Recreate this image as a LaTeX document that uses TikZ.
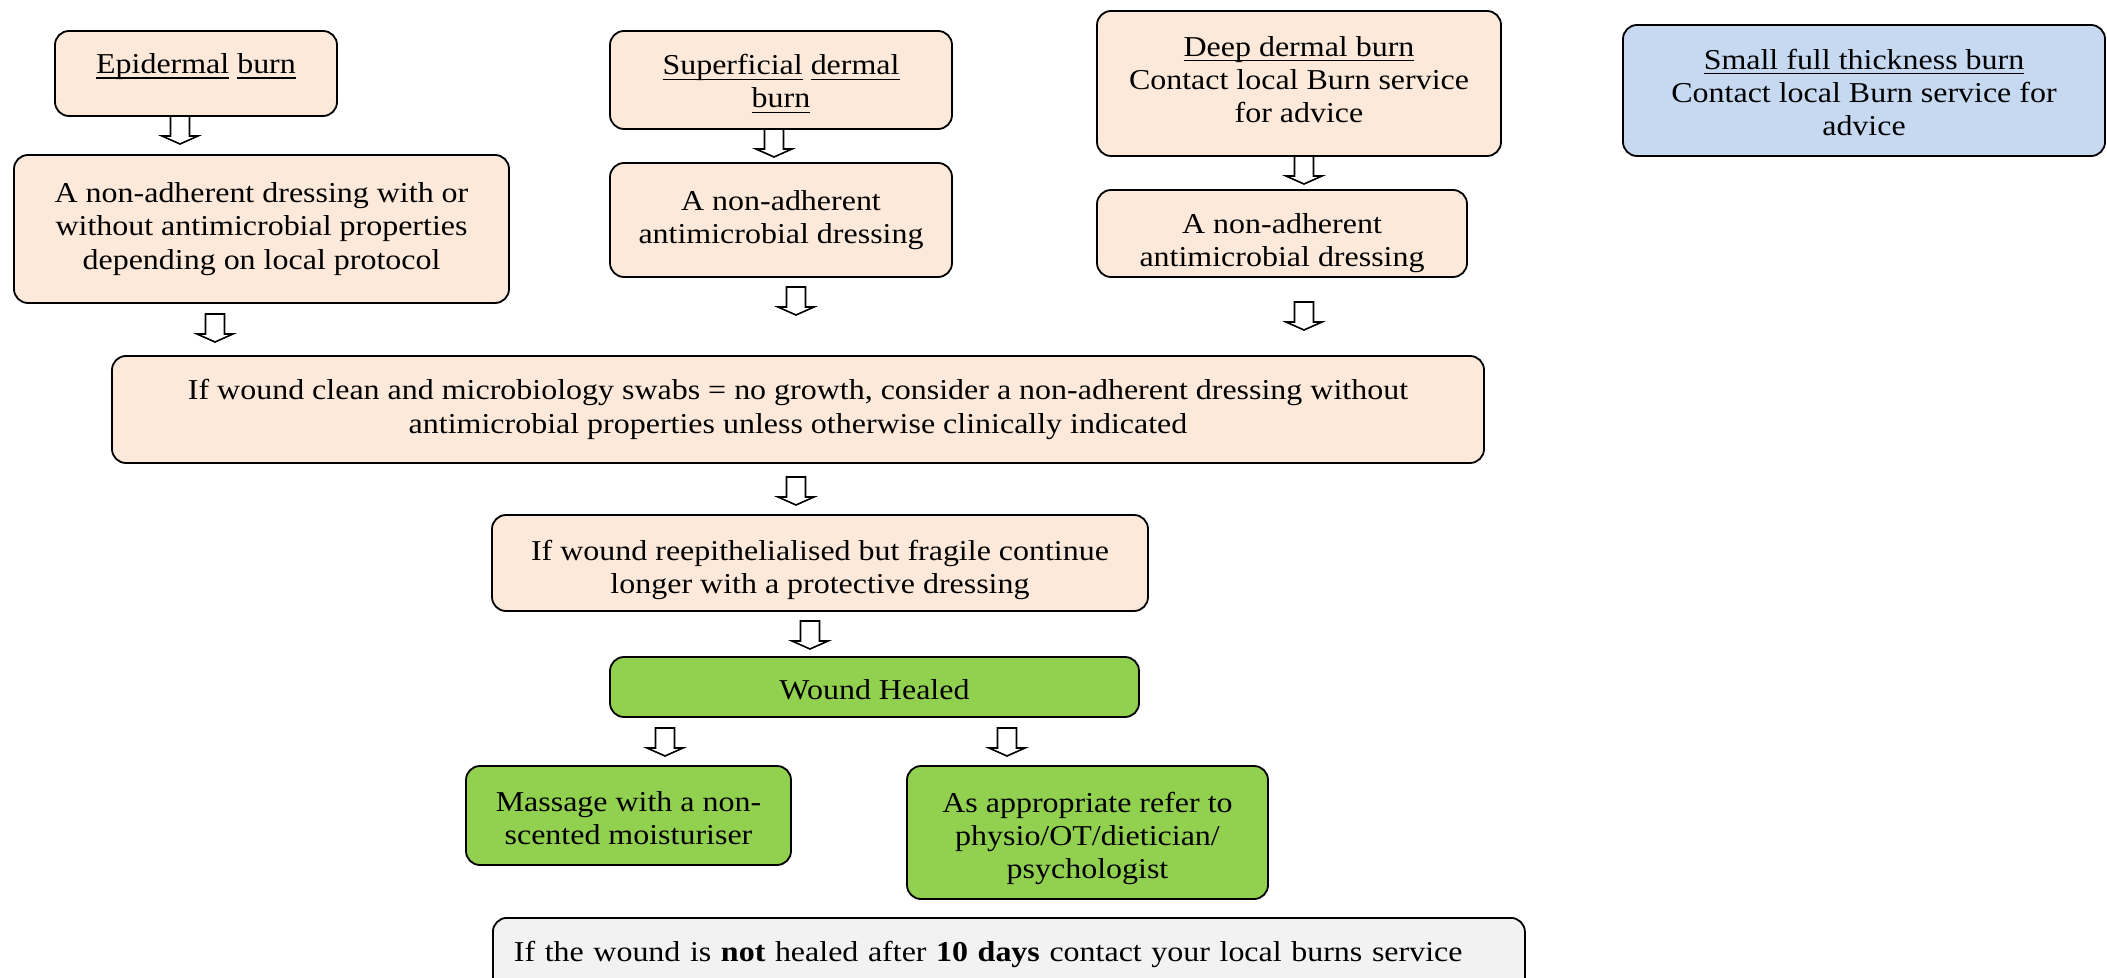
\documentclass[tikz,border=0pt]{standalone}
\usepackage{fontspec}
\setmainfont[FakeStretch=1.11]{Liberation Serif}
\newcommand\myul[1]{\setbox0\hbox{#1}\rlap{\rule[-2.6pt]{\wd0}{0.7pt}}\box0\relax}
\definecolor{peach}{HTML}{FDE9D9}
\definecolor{paleblue}{HTML}{C6D9F1}
\definecolor{leaf}{HTML}{92D050}
\definecolor{palegray}{HTML}{F2F2F2}
\tikzset{
  box/.style={draw=black, line width=0.9pt, rounded corners=7pt, align=center,
    font=\fontsize{14.4}{16.6}\selectfont, inner sep=3pt},
  pbox/.style={box, fill=peach},
  bbox/.style={box, fill=paleblue},
  gbox/.style={box, fill=leaf},
  pics/downarrow/.style={code={
    \draw[fill=white, line width=0.8pt, line join=miter]
      (-4.75pt,0) -- (4.75pt,0) -- (4.75pt,-10pt) -- (9pt,-10pt) -- (0,-14pt)
      -- (-9pt,-10pt) -- (-4.75pt,-10pt) -- cycle;}}
}
\begin{document}
\begin{tikzpicture}[x=0.5pt,y=-0.5pt]
\useasboundingbox (0,0) rectangle (2107,978);

% top row
\node[pbox, minimum width=141pt, minimum height=42.5pt, text height=10pt, text depth=10pt] (epi) at (196,73.5)
  {\myul{Epidermal} \myul{burn}};
\node[pbox, minimum width=247.5pt, minimum height=74pt] (dress1) at (261.5,229)
  {A non-adherent dressing with or\\without antimicrobial properties\\depending on local protocol};
\node[pbox, minimum width=171pt, minimum height=49pt, inner ysep=0pt, text height=30.6pt] (sup) at (781,80)
  {\myul{Superficial} \myul{dermal}\\\myul{burn}};
\node[pbox, minimum width=171pt, minimum height=57pt] (sup2) at (781,220)
  {A non-adherent\\antimicrobial dressing};
\node[pbox, minimum width=202pt, minimum height=72.5pt, text height=39.2pt] (deep) at (1299,83.5)
  {\myul{Deep dermal burn}\\Contact local Burn service\\for advice};
\node[pbox, minimum width=185pt, minimum height=43.5pt, inner ysep=0pt, text height=36pt] (deep2) at (1282,233.5)
  {A non-adherent\\antimicrobial dressing};
\node[bbox, minimum width=241pt, minimum height=65.5pt, inner ysep=0pt, text height=45.2pt] (small) at (1864,90.5)
  {\myul{Small full thickness burn}\\Contact local Burn service for\\advice};

% middle
\node[pbox, minimum width=686pt, minimum height=53.5pt] (big) at (798,409.5)
  {If wound clean and microbiology swabs = no growth, consider a non-adherent dressing without\\antimicrobial properties unless otherwise clinically indicated};
\node[pbox, minimum width=328pt, minimum height=48pt, inner ysep=0pt, text height=33.4pt] (reep) at (820,563)
  {If wound reepithelialised but fragile continue\\longer with a protective dressing};
\node[gbox, minimum width=264.5pt, minimum height=30pt, inner ysep=0pt, text height=12.6pt] (healed) at (874.5,687)
  {Wound Healed};
\node[gbox, minimum width=162.5pt, minimum height=49.5pt, inner ysep=0pt, text height=29.2pt] (massage) at (628.5,815.5)
  {Massage with a non-\\scented moisturiser};
\node[gbox, minimum width=180.5pt, minimum height=66.5pt, inner ysep=0pt, text height=49.2pt] (approp) at (1087.5,832.5)
  {As appropriate refer to\\physio/OT/dietician/\\psychologist};
\node[box, fill=palegray, anchor=north west, minimum width=516pt, minimum height=37pt,
  text width=495pt, inner xsep=10.5pt, align=left] (bottom) at (492,917)
  {If the wound is \textbf{not} healed after \textbf{10 days} contact your local burns service};

% block arrows
\coordinate (ar1) at (180,116);
\coordinate (ar2) at (215,314);
\coordinate (ar3) at (774,129);
\coordinate (ar4) at (796,287);
\coordinate (ar5) at (1304,156);
\coordinate (ar6) at (1304,302);
\coordinate (ar7) at (796,477);
\coordinate (ar8) at (810,621);
\coordinate (ar9) at (665,728);
\coordinate (ar10) at (1007,728);
\foreach \a in {ar1,ar2,ar3,ar4,ar5,ar6,ar7,ar8,ar9,ar10}
  \pic at (\a) {downarrow};
\end{tikzpicture}
\end{document}
